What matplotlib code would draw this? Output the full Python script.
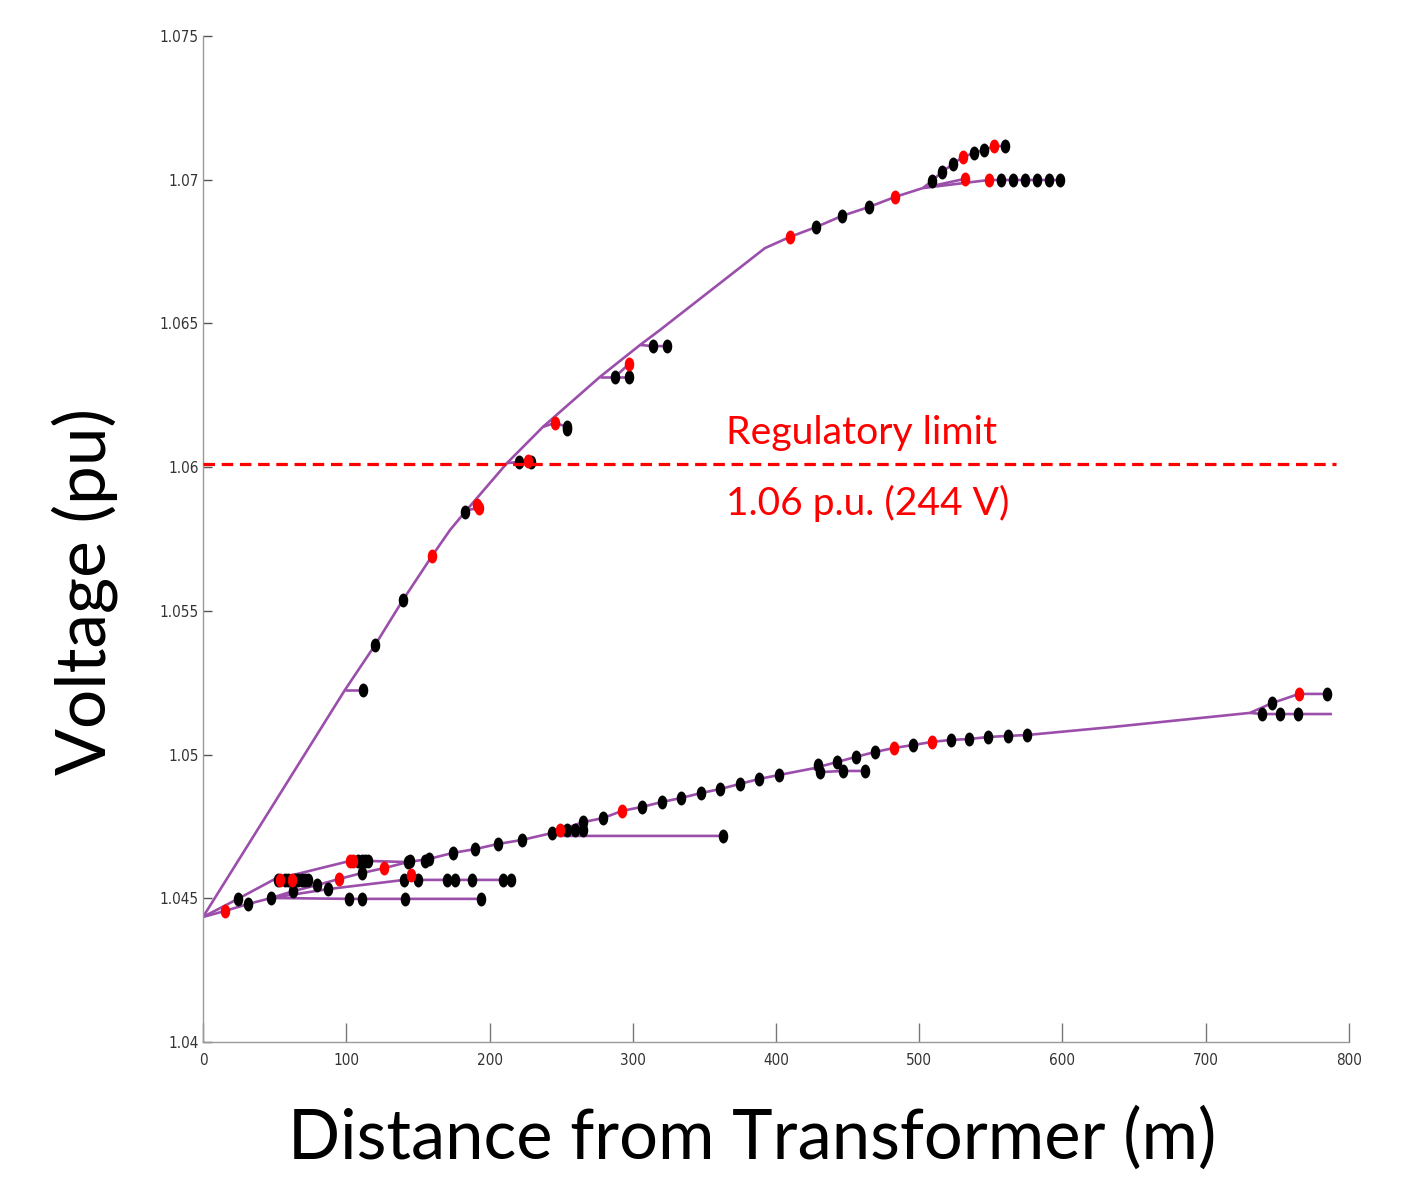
import numpy as np
import matplotlib
matplotlib.use('Agg')
import matplotlib.pyplot as plt
from matplotlib.path import Path

# upper feeder (distance m, voltage pu)
upper_main_d = [0, 99.1, 120.1, 139.6, 159.9, 172.4, 182.9, 212.2, 237.3, 277.1, 305.1, 319.0,
                392.3, 409.8, 427.9, 446.1, 464.9, 483.1, 502.6]
upper_main_v = [1.04435, 1.05225, 1.05381, 1.05538, 1.05691, 1.05781, 1.05844, 1.06014, 1.06140,
                1.06314, 1.06425, 1.06477, 1.06762, 1.06801, 1.06835, 1.06874, 1.06905, 1.06940, 1.06971]
upper_top_d = [502.6, 508.9, 515.9, 523.6, 530.5, 538.2, 545.2, 552.2, 559.9]
upper_top_v = [1.06971, 1.06996, 1.07027, 1.07055, 1.07079, 1.07093, 1.07103, 1.07117, 1.07117]
upper_mid_d = [502.6, 531.9]
upper_mid_v = [1.06971, 1.07003]
upper_end_d = [502.6, 548.7, 557.1, 565.5, 573.6, 582.0, 590.4, 598.2]
upper_end_v = [1.06971, 1.06999, 1.06999, 1.06999, 1.06999, 1.06999, 1.06999, 1.06999]
# short laterals on upper feeder
lat1_d, lat1_v = [99.1, 111.7], [1.05225, 1.05225]
lat2_d, lat2_v = [184.0, 192.7], [1.05850, 1.05858]
lat3_d, lat3_v = [212.2, 220.6, 226.9, 229.0], [1.06014, 1.06018, 1.06021, 1.06018]
lat4_d, lat4_v = [237.3, 245.7, 254.1], [1.06140, 1.06154, 1.06140]
lat5_d, lat5_v = [277.1, 287.6, 297.4], [1.06314, 1.06314, 1.06314]
lat6_d, lat6_v = [287.6, 297.4], [1.06314, 1.06359]
lat7_d, lat7_v = [305.1, 314.1, 323.9], [1.06425, 1.06421, 1.06421]

# lower feeder
low_a_d = [0, 15.4, 31.4, 47.5, 101.9, 111.0, 141.0, 194.1]
low_a_v = [1.04435, 1.04456, 1.04480, 1.04501, 1.04498, 1.04498, 1.04498, 1.04498]
low_main_d = [47.5, 63.1, 79.6, 94.9, 111.0, 126.4, 143.1, 157.8, 174.5, 189.9, 205.9, 222.7,
              243.6, 265.3, 279.2, 292.5, 306.5, 320.4, 333.7, 347.6, 360.9, 374.9, 388.1,
              402.1, 426.0, 442.6, 455.8, 469.1, 482.4, 495.6, 508.9, 522.2, 534.7, 548.0,
              561.9, 575.2, 635.0, 730.9, 746.3, 765.1, 784.6]
low_main_v = [1.04501, 1.04525, 1.04546, 1.04567, 1.04588, 1.04605, 1.04626, 1.04637, 1.04658,
              1.04671, 1.04689, 1.04703, 1.04727, 1.04765, 1.04779, 1.04804, 1.04818, 1.04835,
              1.04849, 1.04866, 1.04880, 1.04898, 1.04915, 1.04929, 1.04952, 1.04974, 1.04992,
              1.05009, 1.05023, 1.05033, 1.05044, 1.05051, 1.05054, 1.05061, 1.05065, 1.05068,
              1.05096, 1.05145, 1.05179, 1.05211, 1.05211]
low_b_d = [47.5, 87.3, 140.6, 145.2, 150.1, 170.3, 175.9, 187.8, 209.4, 215.0]
low_b_v = [1.04501, 1.04532, 1.04564, 1.04581, 1.04564, 1.04564, 1.04564, 1.04564, 1.04564, 1.04564]
low_c_d = [0, 24.4, 49.0, 52.0, 53.5, 57.5, 59.5, 62.0, 64.0, 66.0, 69.0, 71.0, 73.0]
low_c_v = [1.04435, 1.04498, 1.04564, 1.04564, 1.04564, 1.04564, 1.04564, 1.04564, 1.04564,
           1.04564, 1.04564, 1.04564, 1.04564]
low_d_d = [49.0, 102.6, 104.7, 108.2, 111.0, 113.1, 115.2, 143.1]
low_d_v = [1.04564, 1.04630, 1.04630, 1.04630, 1.04630, 1.04630, 1.04630, 1.04626]
low_e_d = [243.6, 249.2, 254.1, 259.7, 265.3]
low_e_v = [1.04727, 1.04738, 1.04738, 1.04738, 1.04738]
low_f_d, low_f_v = [243.6, 249.2, 363.0], [1.04727, 1.04717, 1.04717]
low_g_d = [426.0, 430.7, 446.8, 462.1]
low_g_v = [1.04952, 1.04939, 1.04943, 1.04943]
low_h_d = [730.9, 739.3, 751.8, 764.4, 788.1]
low_h_v = [1.05145, 1.05141, 1.05141, 1.05141, 1.05141]

# node markers
red_d = [159.9, 191.3, 192.7, 226.9, 245.7, 297.4, 409.8, 483.1, 530.5, 552.2, 531.9, 548.7,
         15.4, 53.5, 62.0, 102.6, 104.7, 94.9, 126.4, 145.2, 249.2, 292.5, 482.4, 508.9, 765.1]
red_v = [1.05691, 1.05868, 1.05858, 1.06021, 1.06154, 1.06359, 1.06801, 1.06940, 1.07079,
         1.07117, 1.07003, 1.06999, 1.04456, 1.04564, 1.04564, 1.04630, 1.04630, 1.04567,
         1.04605, 1.04581, 1.04738, 1.04804, 1.05023, 1.05044, 1.05211]
black_d = [111.7, 120.1, 139.6, 182.9, 220.6, 229.0, 254.1, 254.1, 287.6, 297.4, 314.1, 323.9,
           427.9, 446.1, 464.9, 508.9, 515.9, 523.6, 538.2, 545.2, 559.9,
           557.1, 565.5, 573.6, 582.0, 590.4, 598.2,
           24.4, 31.4, 47.5, 101.9, 111.0, 141.0, 194.1,
           52.0, 57.5, 59.5, 64.0, 66.0, 69.0, 71.0, 73.0,
           108.2, 111.0, 113.1, 115.2,
           63.1, 79.6, 87.3, 111.0, 143.1, 144.5, 155.0, 157.8, 174.5, 189.9, 205.9, 222.7,
           140.6, 150.1, 170.3, 175.9, 187.8, 209.4, 215.0,
           243.6, 254.1, 259.7, 265.3, 265.3, 363.0, 279.2, 306.5, 320.4, 333.7, 347.6, 360.9,
           374.9, 388.1, 402.1, 429.3, 430.7, 442.6, 446.8, 455.8, 462.1, 469.1, 495.6,
           522.2, 534.7, 548.0, 561.9, 575.2, 746.3, 784.6, 739.3, 751.8, 764.4]
black_v = [1.05225, 1.05381, 1.05538, 1.05844, 1.06018, 1.06018, 1.06140, 1.06133, 1.06314,
           1.06314, 1.06421, 1.06421,
           1.06835, 1.06874, 1.06905, 1.06996, 1.07027, 1.07055, 1.07093, 1.07103, 1.07117,
           1.06999, 1.06999, 1.06999, 1.06999, 1.06999, 1.06999,
           1.04498, 1.04480, 1.04501, 1.04498, 1.04498, 1.04498, 1.04498,
           1.04564, 1.04564, 1.04564, 1.04564, 1.04564, 1.04564, 1.04564, 1.04564,
           1.04630, 1.04630, 1.04630, 1.04630,
           1.04525, 1.04546, 1.04532, 1.04588, 1.04626, 1.04630, 1.04630, 1.04637, 1.04658,
           1.04671, 1.04689, 1.04703,
           1.04564, 1.04564, 1.04564, 1.04564, 1.04564, 1.04564, 1.04564,
           1.04727, 1.04738, 1.04738, 1.04738, 1.04765, 1.04717, 1.04779, 1.04818, 1.04835,
           1.04849, 1.04866, 1.04880, 1.04898, 1.04915, 1.04929, 1.04964, 1.04939, 1.04974,
           1.04943, 1.04992, 1.04943, 1.05009, 1.05033,
           1.05051, 1.05054, 1.05061, 1.05065, 1.05068, 1.05179, 1.05211, 1.05141, 1.05141, 1.05141]

limit_v = 1.0601
limit_end = 791
x_ticks = [0, 100, 200, 300, 400, 500, 600, 700, 800]
y_ticks = [1.04, 1.045, 1.05, 1.055, 1.06, 1.065, 1.07, 1.075]
y_tick_labels = ['1.04', '1.045', '1.05', '1.055', '1.06', '1.065', '1.07', '1.075']

fig = plt.figure(figsize=(14.03, 11.91), dpi=100)
ax = fig.add_axes([0.1447, 0.1251, 0.8168, 0.8447])

line_color = '#9b4fab'
branches = [
    (upper_main_d, upper_main_v), (upper_top_d, upper_top_v), (upper_mid_d, upper_mid_v),
    (upper_end_d, upper_end_v), (lat1_d, lat1_v), (lat2_d, lat2_v), (lat3_d, lat3_v),
    (lat4_d, lat4_v), (lat5_d, lat5_v), (lat6_d, lat6_v), (lat7_d, lat7_v),
    (low_a_d, low_a_v), (low_main_d, low_main_v), (low_b_d, low_b_v), (low_c_d, low_c_v),
    (low_d_d, low_d_v), (low_e_d, low_e_v), (low_f_d, low_f_v), (low_g_d, low_g_v),
    (low_h_d, low_h_v),
]
for d, v in branches:
    ax.plot(d, v, color=line_color, lw=1.9, solid_capstyle='butt', zorder=2)

# tall ellipse marker
ellipse = Path.unit_circle().transformed(matplotlib.transforms.Affine2D().scale(0.65, 1.0))
ax.plot(black_d, black_v, ls='none', marker=ellipse, ms=9, color='black', zorder=3)
ax.plot(red_d, red_v, ls='none', marker=ellipse, ms=9, color='red', zorder=3)

lim, = ax.plot([0, limit_end], [limit_v, limit_v], color='red', lw=2.3, zorder=4)
lim.set_dashes((3.6, 2.1))

ax.text(365, 1.06119, 'Regulatory limit', color='red', fontsize=28.2, family='Lato',
        ha='left', va='center')
ax.text(365, 1.05875, '1.06 p.u. (244 V)', color='red', fontsize=28, family='Lato',
        ha='left', va='center')

ax.set_xlim(0, 800)
ax.set_ylim(1.04, 1.075)
ax.set_xticks(x_ticks)
ax.set_xticklabels([str(t) for t in x_ticks])
ax.set_yticks(y_ticks)
ax.set_yticklabels(y_tick_labels)
ax.spines['top'].set_visible(False)
ax.spines['right'].set_visible(False)
for s in ['left', 'bottom']:
    ax.spines[s].set_color('#999999')
    ax.spines[s].set_linewidth(1.0)
ax.tick_params(axis='x', direction='in', length=14, width=1, color='#777777', pad=8,
               labelsize=11, labelcolor='#333333')
ax.tick_params(axis='y', direction='in', length=6.5, width=1, color='#555555', pad=3,
               labelsize=11, labelcolor='#333333')
for lab in ax.get_xticklabels() + ax.get_yticklabels():
    lab.set_family('DejaVu Sans')
    lab.set_stretch('condensed')

fig.text(85 / 1403, 1 - 592 / 1191, 'Voltage (pu)', rotation=90, fontsize=50, family='Lato',
         ha='center', va='center')
fig.text(752 / 1403, 1 - 1138 / 1191, 'Distance from Transformer (m)', fontsize=49.4,
         family='Lato', ha='center', va='center')

fig.savefig('out.png', dpi=100)
